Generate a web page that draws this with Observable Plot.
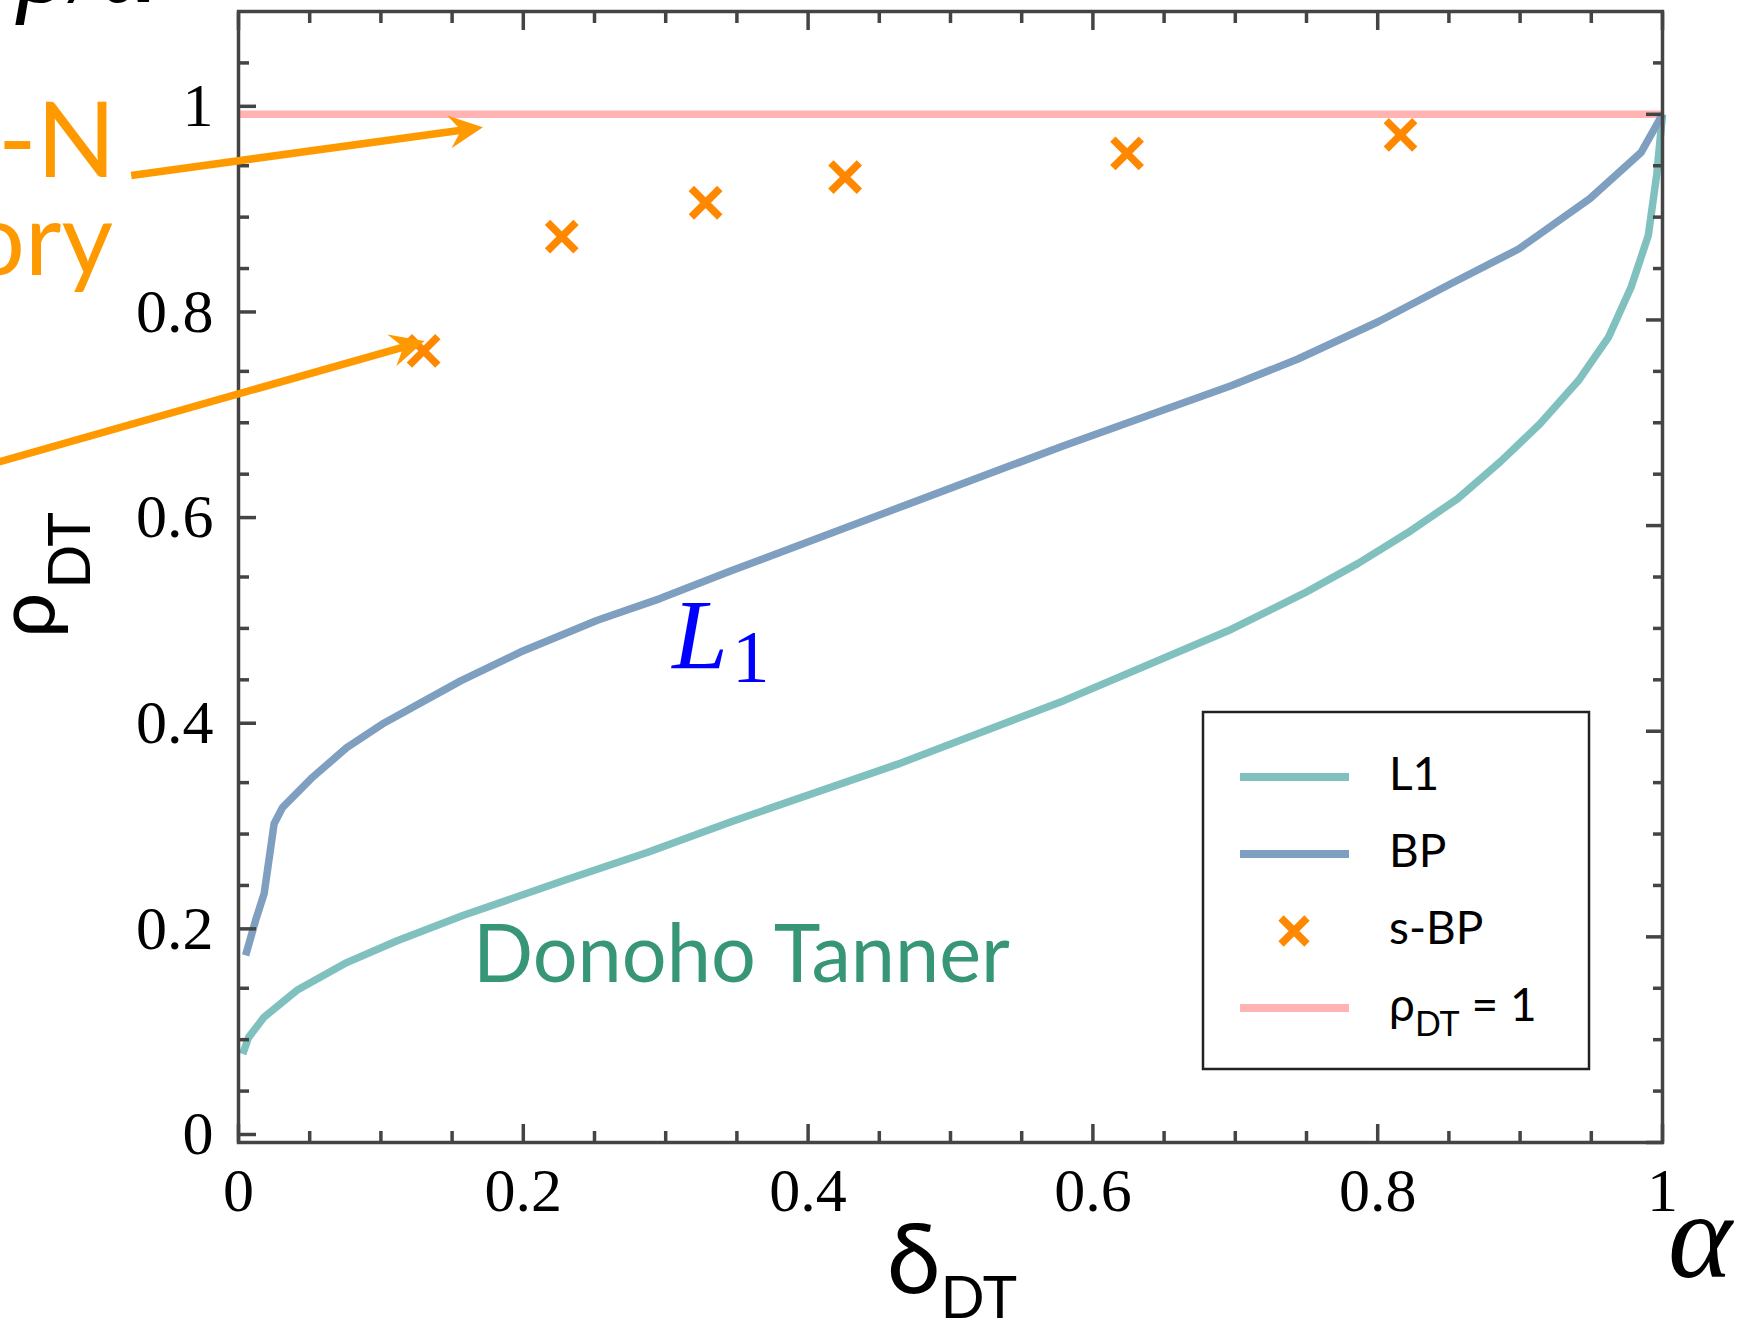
<!DOCTYPE html>
<html><head><meta charset="utf-8">
<script src="https://cdn.jsdelivr.net/npm/d3@7"></script>
<script src="https://cdn.jsdelivr.net/npm/@observablehq/plot@0.6"></script>
<style>html,body{margin:0;padding:0;background:#fff;overflow:hidden;} svg{overflow:hidden;display:block;}</style>
</head><body><div id="chart"></div>
<script>
// ---- data ----
const l1X = [0.003,0.007,0.018,0.041,0.076,0.111,0.158,0.229,0.287,0.346,0.463,0.580,0.697,0.748,0.786,0.821,0.856,0.886,0.914,0.941,0.962,0.978,0.990,0.996,1.000];
const l1Y = [0.086,0.102,0.122,0.148,0.175,0.196,0.221,0.255,0.282,0.312,0.368,0.430,0.499,0.534,0.563,0.593,0.626,0.662,0.699,0.741,0.783,0.832,0.882,0.942,1.000];
const bpX = [0.005,0.012,0.018,0.025,0.031,0.051,0.076,0.101,0.156,0.198,0.252,0.296,0.346,0.463,0.580,0.697,0.744,0.800,0.851,0.899,0.949,0.985,1.000];
const bpY = [0.182,0.216,0.242,0.310,0.326,0.354,0.384,0.407,0.449,0.477,0.508,0.529,0.556,0.617,0.678,0.736,0.762,0.798,0.835,0.869,0.918,0.963,1.000];
const sbpX = [0.130,0.227,0.328,0.426,0.624,0.816];
const sbpY = [0.770,0.881,0.914,0.939,0.962,0.980];
const rhoOneX = [0, 1];
const rhoOneY = [1, 1];
const xMajor = [0,0.2,0.4,0.6,0.8,1];
const xMinor = [0.05,0.1,0.15,0.25,0.3,0.35,0.45,0.5,0.55,0.65,0.7,0.75,0.85,0.9,0.95];
const yMajor = [0,0.2,0.4,0.6,0.8,1];
const yMinor = [0.05,0.1,0.15,0.25,0.3,0.35,0.45,0.5,0.55,0.65,0.7,0.75,0.85,0.9,0.95,1.05];
const seriesNames = ["L1","BP","s-BP","ρDT = 1"];
const seriesColors = ["#80c1bf","#7f9fc0","#ff8800","#ffb3b3"];
// annotation arrows (data units)
const arrowStartX = [-0.075,-0.174];
const arrowStartY = [0.940,0.659];
const arrowEndX = [0.172,0.131];
const arrowEndY = [0.987,0.779];

const serif = "'Liberation Serif','Times New Roman',serif";
const sans = "Lato,'Open Sans','Noto Sans',sans-serif";
const axisColor = "#444";
const fmt = d => String(d);

const plot = Plot.plot({
  width: 1744, height: 1323,
  marginLeft: 238, marginRight: 82, marginTop: 11, marginBottom: 181,
  x: {domain: [0,1]},
  y: {domain: [0,1.1]},
  style: {fontFamily: serif, fontSize: "62px", color: "#000", background: "#fff", overflow: "hidden"},
  marks: [
    Plot.line(rhoOneX, {x: rhoOneX, y: rhoOneY, stroke: seriesColors[3], strokeWidth: 7.5, strokeLinecap: "butt"}),
    Plot.line(l1X, {x: l1X, y: l1Y, stroke: seriesColors[0], strokeWidth: 7.5, strokeLinecap: "butt"}),
    Plot.line(bpX, {x: bpX, y: bpY, stroke: seriesColors[1], strokeWidth: 7.5, strokeLinecap: "butt"}),
    Plot.dot(sbpX, {x: sbpX, y: sbpY, symbol: "times", r: 13, stroke: seriesColors[2], strokeWidth: 7.5}),
    Plot.frame({stroke: axisColor, strokeWidth: 3.5}),
    Plot.axisX({ticks: xMajor, tickFormat: fmt, anchor: "bottom", tickSize: -18, tickPadding: 42, stroke: axisColor, strokeWidth: 3.5, label: null}),
    Plot.axisX({ticks: xMinor, anchor: "bottom", tickSize: -11, fill: "none", stroke: axisColor, strokeWidth: 3.5, label: null}),
    Plot.axisX({ticks: xMajor, anchor: "top", tickSize: -18, fill: "none", stroke: axisColor, strokeWidth: 3.5, label: null}),
    Plot.axisX({ticks: xMinor, anchor: "top", tickSize: -11, fill: "none", stroke: axisColor, strokeWidth: 3.5, label: null}),
    Plot.axisY({ticks: yMajor, tickFormat: fmt, anchor: "left", tickSize: -18, tickPadding: 43, dy: -8, stroke: axisColor, strokeWidth: 3.5, label: null}),
    Plot.axisY({ticks: yMinor, anchor: "left", tickSize: -11, fill: "none", stroke: axisColor, strokeWidth: 3.5, label: null}),
    Plot.axisY({ticks: yMajor, anchor: "right", tickSize: -17, fill: "none", stroke: axisColor, strokeWidth: 3.5, label: null}),
    Plot.axisY({ticks: yMinor, anchor: "right", tickSize: -10, fill: "none", stroke: axisColor, strokeWidth: 3.5, label: null})
  ]
});
document.getElementById("chart").appendChild(plot);

const svg = d3.select(plot);
const xs = plot.scale("x"), ys = plot.scale("y");
const X = v => xs.apply(v), Y = v => ys.apply(v);
const orange = "#ff9900";
const ann = svg.append("g").attr("text-anchor", "start");

// arrows
for (let i = 0; i < arrowStartX.length; i++) {
  const x1 = X(arrowStartX[i]), y1 = Y(arrowStartY[i]), x2 = X(arrowEndX[i]), y2 = Y(arrowEndY[i]);
  const dx = x2 - x1, dy = y2 - y1, len = Math.hypot(dx, dy), ux = dx/len, uy = dy/len, px = -uy, py = ux;
  const L = 34, Wd = 16.5, N = 22;
  ann.append("line").attr("x1", x1).attr("y1", y1).attr("x2", x2 - ux*N).attr("y2", y2 - uy*N)
    .attr("stroke", orange).attr("stroke-width", 7.5);
  const pts = [[x2, y2], [x2 - ux*L + px*Wd, y2 - uy*L + py*Wd], [x2 - ux*N, y2 - uy*N], [x2 - ux*L - px*Wd, y2 - uy*L - py*Wd]];
  ann.append("path").attr("d", "M" + pts.map(p => p.join(",")).join("L") + "Z").attr("fill", orange);
}

// orange annotation text (cut by left edge)
ann.append("text").attr("x", 116).attr("y", 177).attr("text-anchor", "end")
  .style("font-family", sans).attr("font-size", 104).attr("fill", orange).text("-N");
ann.append("text").attr("x", 113).attr("y", 275).attr("text-anchor", "end")
  .style("font-family", sans).attr("font-size", 100).attr("fill", orange).text("theory");

// L1 label
const lt = ann.append("text").attr("x", X(0.305)).attr("y", Y(0.461)).attr("text-anchor", "start").attr("fill", "#0000ff").style("font-family", serif);
lt.append("tspan").attr("font-size", 100).attr("font-style", "italic").text("L");
lt.append("tspan").attr("font-size", 75).attr("dy", 14).attr("dx", 4).text("1");

// Donoho Tanner label
ann.append("text").attr("x", X(0.165)).attr("y", Y(0.156)).attr("text-anchor", "start").attr("fill", "#369677")
  .style("font-family", sans).attr("font-size", 82)
  .attr("textLength", 537).attr("lengthAdjust", "spacingAndGlyphs").text("Donoho Tanner");

// axis labels
const yl = ann.append("text").attr("transform", "translate(54,575) rotate(-90)").attr("text-anchor", "middle")
  .style("font-family", sans).attr("fill", "#000");
yl.append("tspan").attr("font-size", 80).text("ρ");
yl.append("tspan").attr("font-size", 58).attr("dy", 36).attr("dx", 4).text("DT");

const xl = ann.append("text").attr("x", 952).attr("y", 1293).attr("text-anchor", "middle")
  .style("font-family", sans).attr("fill", "#000");
xl.append("tspan").attr("font-size", 97).text("δ");
xl.append("tspan").attr("font-size", 58).attr("dy", 25).text("DT");

// cut-off math labels
const tl = ann.append("text").attr("y", 2).attr("text-anchor", "start").style("font-family", serif).attr("font-style", "italic").attr("font-size", 105).attr("fill", "#000");
tl.append("tspan").attr("x", 18).text("ρ");
tl.append("tspan").attr("x", 72).text("/");
tl.append("tspan").attr("x", 100).text("α");
ann.append("text").attr("x", 1668).attr("y", 1277).attr("text-anchor", "start").style("font-family", serif).attr("font-style", "italic")
  .attr("font-size", 122).attr("fill", "#000").text("α");

// legend
const lg = ann.append("g");
lg.append("rect").attr("x", 1203).attr("y", 712).attr("width", 386).attr("height", 357)
  .attr("fill", "#fff").attr("stroke", "#222").attr("stroke-width", 2.5);
const rowY = [777, 854, 931, 1008];
seriesNames.forEach((name, i) => {
  const yy = rowY[i];
  if (i === 2) {
    const s = 13;
    lg.append("path").attr("d", `M${1294-s},${yy-s}L${1294+s},${yy+s}M${1294-s},${yy+s}L${1294+s},${yy-s}`)
      .attr("stroke", seriesColors[i]).attr("stroke-width", 7.5);
  } else {
    lg.append("line").attr("x1", 1240).attr("x2", 1349).attr("y1", yy).attr("y2", yy)
      .attr("stroke", seriesColors[i]).attr("stroke-width", 8);
  }
  const t = lg.append("text").attr("x", 1389).attr("y", yy + 13).attr("text-anchor", "start").style("font-family", sans).attr("font-size", 46).attr("fill", "#000");
  if (i === 3) {
    t.append("tspan").text("ρ");
    t.append("tspan").attr("font-size", 34).attr("dy", 15).text("DT");
    t.append("tspan").attr("dy", -15).text(" = 1");
  } else {
    t.text(name);
  }
});
</script>
</body></html>
